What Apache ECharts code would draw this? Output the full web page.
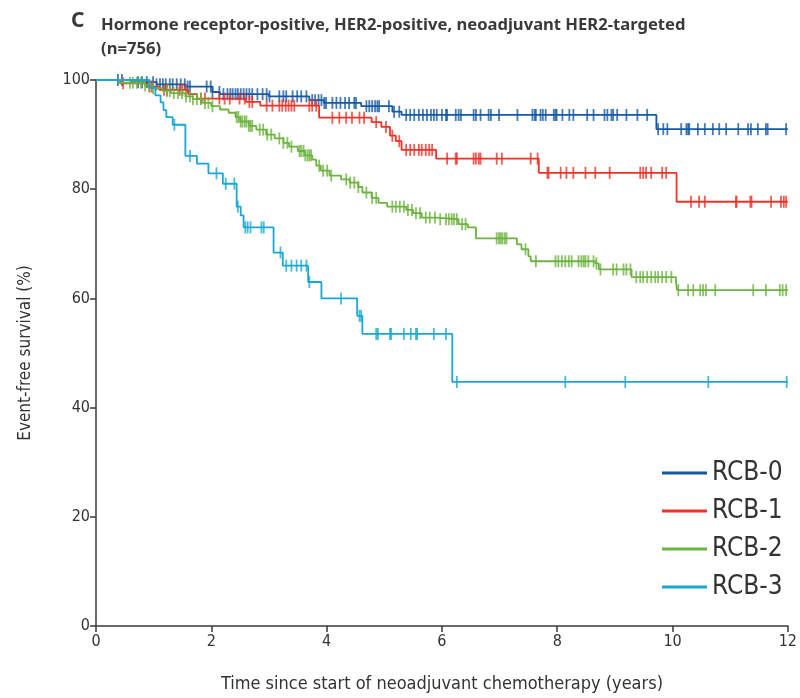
<!DOCTYPE html>
<html>
<head>
<meta charset="utf-8">
<script src="https://cdn.jsdelivr.net/npm/echarts@6/dist/echarts.min.js"></script>
<style>
html,body{margin:0;padding:0;background:#fff;}
#chart{width:800px;height:698px;}
</style>
</head>
<body>
<div id="chart"></div>
<script>
// ---- Data ----
const seriesNames = ['RCB-0', 'RCB-1', 'RCB-2', 'RCB-3'];
const xTicks = [0, 2, 4, 6, 8, 10, 12];
const yTicks = [0, 20, 40, 60, 80, 100];

// Kaplan-Meier step points: [time (years), event-free survival (%)]
const rcb0Steps = [[0,100],[0.62,99.6],[1.05,99.2],[1.55,98.8],[2.02,97.8],[2.15,97.4],[3.0,97.0],[3.7,96.3],[3.95,95.8],[4.6,95.2],[5.14,94.2],[5.3,93.6],[9.72,91.0],[12,91.0]];
const rcb1Steps = [[0,100],[0.42,99.4],[0.9,98.8],[1.1,98.2],[1.6,97.4],[1.75,96.6],[2.6,96.0],[2.85,95.3],[3.87,93.1],[4.78,92.3],[4.95,91.4],[5.1,89.8],[5.2,88.8],[5.3,87.2],[5.9,85.6],[7.68,83.0],[10.07,77.7],[12,77.7]];
const rcb2Steps = [[0,100],[0.4,99.5],[0.85,99.0],[0.95,98.5],[1.15,98.0],[1.3,97.6],[1.55,97.0],[1.68,96.5],[1.85,95.8],[2.0,95.2],[2.15,94.6],[2.3,94.0],[2.42,93.2],[2.5,92.4],[2.65,91.6],[2.78,90.9],[2.95,90.0],[3.1,89.3],[3.25,88.5],[3.35,87.8],[3.5,87.0],[3.62,86.2],[3.75,85.4],[3.82,84.3],[3.9,83.4],[4.05,82.5],[4.25,81.8],[4.4,81.2],[4.55,80.4],[4.62,79.4],[4.78,78.4],[4.9,77.5],[5.05,76.8],[5.38,76.2],[5.5,75.6],[5.65,74.8],[5.9,74.5],[6.29,73.6],[6.45,73.0],[6.59,71.0],[7.30,69.9],[7.38,69.0],[7.50,67.7],[7.54,66.8],[8.66,66.4],[8.72,65.3],[9.29,63.9],[10.06,63.0],[10.08,61.5],[12,61.5]];
const rcb3Steps = [[0,100],[0.93,98.6],[1.03,97.2],[1.12,95.9],[1.17,94.5],[1.22,93.2],[1.33,91.8],[1.55,86.1],[1.75,84.7],[1.95,82.9],[2.2,81.0],[2.44,76.8],[2.51,75.2],[2.56,73.0],[3.08,68.4],[3.24,66.0],[3.68,63.0],[3.91,60.0],[4.53,56.8],[4.62,53.5],[6.18,44.7],[12,44.7]];

// Censoring times (years)
const rcb0Censor = [0.38,0.45,0.73,0.80,0.88,0.99,1.05,1.11,1.16,1.21,1.28,1.33,1.40,1.47,1.54,1.59,1.63,1.92,1.99,2.02,2.14,2.21,2.28,2.33,2.37,2.42,2.46,2.51,2.56,2.61,2.66,2.71,2.80,2.89,2.96,3.01,3.18,3.25,3.30,3.41,3.49,3.56,3.65,3.75,3.80,3.86,3.91,3.96,3.99,4.10,4.17,4.24,4.32,4.39,4.48,4.51,4.69,4.74,4.79,4.84,4.88,4.91,5.08,5.17,5.26,5.38,5.45,5.52,5.60,5.67,5.74,5.81,5.86,5.91,6.00,6.07,6.09,6.24,6.29,6.33,6.55,6.59,6.67,6.81,6.85,6.99,7.31,7.57,7.61,7.63,7.71,7.75,7.80,7.94,7.97,7.99,8.09,8.21,8.28,8.52,8.63,8.82,8.87,8.94,8.97,9.04,9.20,9.39,9.56,9.75,9.84,9.91,10.15,10.24,10.27,10.29,10.44,10.56,10.70,10.81,10.93,11.14,11.31,11.36,11.48,11.62,11.65,11.97];
const rcb1Censor = [0.47,0.93,0.97,1.18,1.23,1.45,1.50,1.56,1.82,1.89,2.14,2.23,2.32,2.49,2.58,2.66,2.71,2.96,3.06,3.18,3.23,3.29,3.34,3.39,3.44,3.70,3.75,3.82,4.10,4.22,4.34,4.44,4.57,4.65,4.86,5.03,5.14,5.26,5.38,5.45,5.52,5.60,5.65,5.72,5.78,5.83,6.09,6.24,6.26,6.55,6.59,6.64,6.67,6.95,7.04,7.54,7.66,7.83,7.85,8.06,8.16,8.28,8.49,8.66,8.91,9.44,9.49,9.54,9.63,9.82,9.89,10.32,10.46,10.56,11.10,11.11,11.35,11.37,11.71,11.88,11.93,11.97];
const rcb2Censor = [0.59,0.64,0.71,0.78,0.85,0.92,0.99,1.23,1.28,1.35,1.42,1.49,1.56,1.63,1.68,1.75,1.82,1.89,1.95,2.02,2.44,2.47,2.51,2.54,2.58,2.61,2.65,2.68,2.71,2.84,2.90,2.97,3.04,3.18,3.25,3.32,3.39,3.53,3.56,3.60,3.63,3.67,3.70,3.73,3.87,3.94,4.01,4.08,4.34,4.41,4.48,4.55,4.69,4.79,4.86,5.14,5.20,5.27,5.34,5.41,5.48,5.55,5.62,5.72,5.79,5.88,5.97,6.07,6.12,6.17,6.21,6.26,6.35,6.41,6.95,6.99,7.02,7.05,7.09,7.12,7.45,7.63,7.97,8.02,8.08,8.14,8.20,8.25,8.37,8.42,8.46,8.49,8.54,8.63,8.68,8.75,8.97,9.03,9.15,9.20,9.27,9.37,9.44,9.49,9.56,9.63,9.70,9.75,9.82,9.89,9.98,10.10,10.27,10.36,10.48,10.53,10.58,10.74,11.40,11.62,11.86,11.91,11.97];
const rcb3Censor = [1.36,1.63,2.09,2.25,2.40,2.46,2.59,2.63,2.68,2.87,2.91,3.20,3.30,3.39,3.48,3.56,3.65,3.70,4.25,4.57,4.60,4.86,4.89,5.10,5.12,5.34,5.46,5.55,5.57,5.86,6.07,6.26,8.14,9.18,10.62,11.98];

const colors = ['#1559a3', '#ee3228', '#6cb33f', '#1aa7d1'];

// survival value at time t from a step list
function survAt(steps, t) {
  let v = steps[0][1];
  for (const [st, sv] of steps) { if (st <= t) v = sv; else break; }
  return v;
}

const stepsAll = [rcb0Steps, rcb1Steps, rcb2Steps, rcb3Steps];
const censorAll = [rcb0Censor, rcb1Censor, rcb2Censor, rcb3Censor];
const drawOrder = [2, 1, 0, 3];

const series = [];
drawOrder.forEach(i => {
  series.push({
    name: seriesNames[i], type: 'line', step: 'end', showSymbol: false,
    data: stepsAll[i], lineStyle: { color: colors[i], width: 1.8 },
    itemStyle: { color: colors[i] }, z: 2 + i, animation: false, silent: true
  });
  series.push({
    name: seriesNames[i] + ' censored', type: 'scatter', symbol: 'rect', symbolSize: [1.8, 12],
    data: censorAll[i].map(t => [t, survAt(stepsAll[i], t)]),
    itemStyle: { color: colors[i] }, z: 2 + i, animation: false, silent: true
  });
});

const FONT = '"Liberation Sans Narrow", "DejaVu Sans Condensed", "Noto Sans", sans-serif';

const chart = echarts.init(document.getElementById('chart'), null, { renderer: 'canvas' });
chart.setOption({
  animation: false,
  backgroundColor: '#ffffff',
  title: [
    { text: 'C', left: 66, top: 6, textStyle: { fontFamily: '"Noto Sans", sans-serif', fontWeight: 'bold', fontSize: 21, color: '#3a3a3a' } },
    { text: 'Hormone receptor-positive, HER2-positive, neoadjuvant HER2-targeted\n(n=756)', left: 96, top: 8,
      textStyle: { fontFamily: '"Noto Sans", sans-serif', fontWeight: 'bold', fontSize: 16.6, color: '#3a3a3a', lineHeight: 24 } }
  ],
  legend: {
    data: seriesNames.map(n => ({ name: n, icon: 'rect' })),
    orient: 'vertical', left: 657, top: 455, itemWidth: 45, itemHeight: 3, itemGap: 12,
    textStyle: { fontFamily: FONT, fontSize: 26, color: '#333' },
    selectedMode: false
  },
  grid: { left: 96, right: 10, top: 80, bottom: 70, containLabel: false },
  xAxis: {
    type: 'value', min: 0, max: 12, interval: 2,
    name: 'Time since start of neoadjuvant chemotherapy (years)', nameLocation: 'middle', nameGap: 49,
    nameTextStyle: { fontFamily: FONT, fontSize: 18, color: '#333' },
    axisLine: { show: true, lineStyle: { color: '#3a3a3a', width: 1.5 } },
    axisTick: { show: true, length: 6, lineStyle: { color: '#3a3a3a', width: 1.5 } },
    axisLabel: { fontFamily: FONT, fontSize: 16, color: '#333', margin: 8, formatter: v => xTicks.includes(v) ? String(v) : '' },
    splitLine: { show: false }
  },
  yAxis: {
    type: 'value', min: 0, max: 100, interval: 20,
    name: 'Event-free survival (%)', nameLocation: 'middle', nameGap: 62, nameRotate: 90,
    nameTextStyle: { fontFamily: FONT, fontSize: 17, color: '#333' },
    axisLine: { show: true, lineStyle: { color: '#3a3a3a', width: 1.5 } },
    axisTick: { show: true, length: 6, lineStyle: { color: '#3a3a3a', width: 1.5 } },
    axisLabel: { fontFamily: FONT, fontSize: 16, color: '#333', margin: 6, formatter: v => yTicks.includes(v) ? String(v) : '' },
    splitLine: { show: false }
  },
  series: series
});
</script>
</body>
</html>
